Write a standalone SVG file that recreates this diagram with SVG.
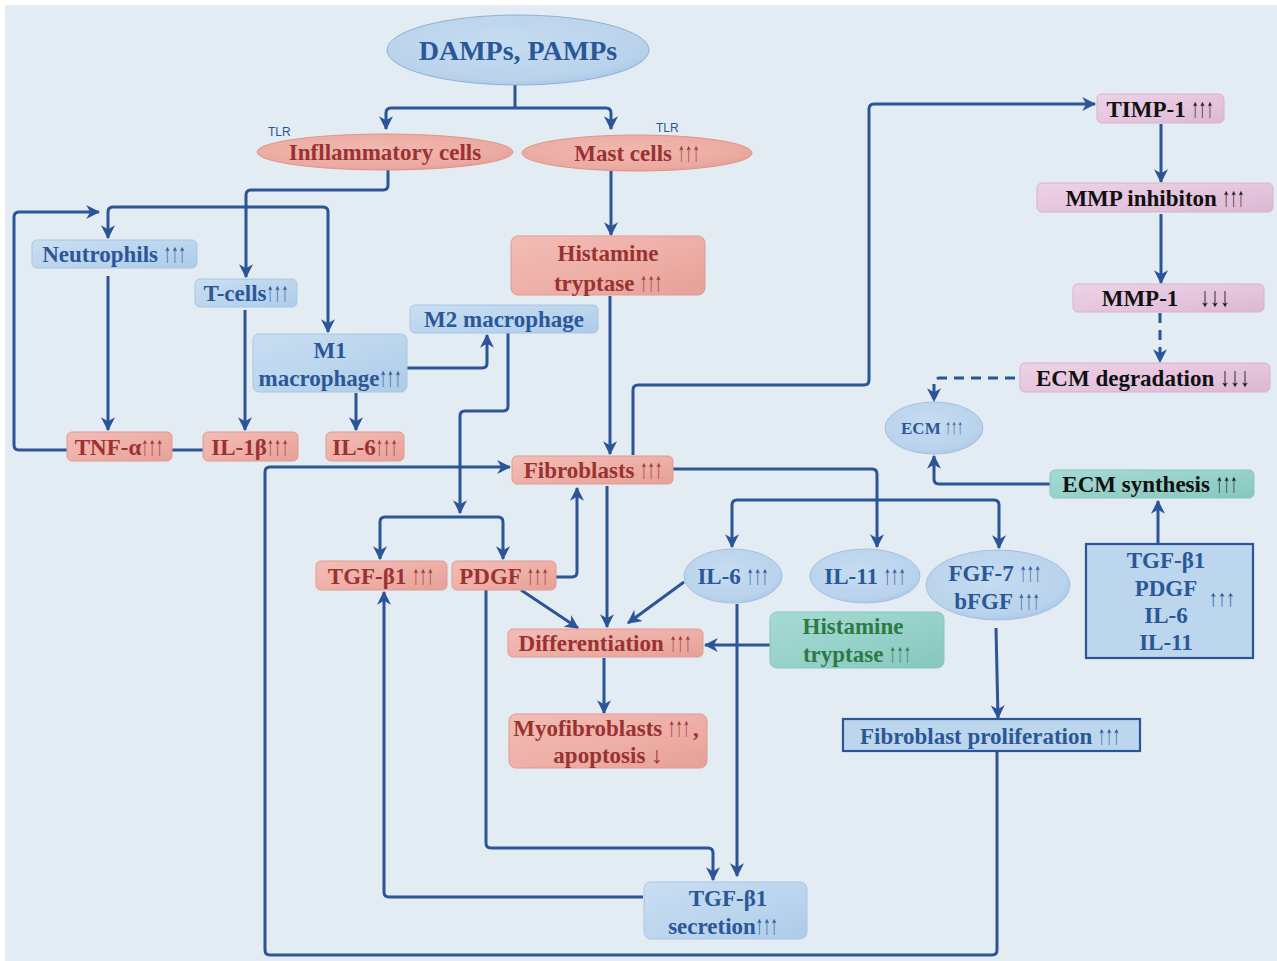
<svg xmlns="http://www.w3.org/2000/svg" width="1277" height="961" viewBox="0 0 1277 961">
<defs>
<style>
.t{font-family:"Liberation Serif","Times New Roman",serif;font-weight:bold;font-size:23px;text-anchor:middle}
.ar{font-weight:normal;font-size:27px}
.r{fill:#9a3232}
.b{fill:#2b5797}
.k{fill:#111}
.g{fill:#2d7a45}
.pink{fill:url(#gPink);stroke:#e39a91;stroke-width:1}
.blue{fill:url(#gBlue);stroke:#a9c6e4;stroke-width:1}
.lil{fill:url(#gLil);stroke:#d8b2cd;stroke-width:1}
.teal{fill:url(#gTeal);stroke:#86c7bf;stroke-width:1}
.box2{fill:#bcd6ee;stroke:#2b5597;stroke-width:2.2}
.c{fill:none;stroke:#2b5597;stroke-width:3;stroke-linejoin:round}
.a{marker-end:url(#ah)}
.aa{marker-start:url(#ah);marker-end:url(#ah)}
.d{stroke-dasharray:10 7}
</style>
<marker id="ah" viewBox="0 0 12 12" refX="11" refY="6" markerWidth="14" markerHeight="14" markerUnits="userSpaceOnUse" orient="auto-start-reverse">
<path d="M0,0 L12,6 L0,12 L3.5,6 z" fill="#2b5597"/>
</marker>
<linearGradient id="gPink" x1="0" y1="0" x2="1" y2="1">
<stop offset="0" stop-color="#f2bdb6"/><stop offset="0.5" stop-color="#eeb0a8"/><stop offset="1" stop-color="#e6a097"/>
</linearGradient>
<linearGradient id="gBlue" x1="0" y1="0" x2="1" y2="1">
<stop offset="0" stop-color="#c9def2"/><stop offset="0.5" stop-color="#bcd6ee"/><stop offset="1" stop-color="#aecbe8"/>
</linearGradient>
<linearGradient id="gLil" x1="0" y1="0" x2="1" y2="1">
<stop offset="0" stop-color="#edd2e6"/><stop offset="0.5" stop-color="#e6c6de"/><stop offset="1" stop-color="#dcb8d3"/>
</linearGradient>
<linearGradient id="gTeal" x1="0" y1="0" x2="1" y2="1">
<stop offset="0" stop-color="#a6dad3"/><stop offset="0.5" stop-color="#97d2ca"/><stop offset="1" stop-color="#86c6be"/>
</linearGradient>
<radialGradient id="gEll" cx="0.45" cy="0.4" r="0.65">
<stop offset="0" stop-color="#c6dcf1"/><stop offset="0.8" stop-color="#b9d3ec"/><stop offset="1" stop-color="#a7c5e5"/>
</radialGradient>
<radialGradient id="gEllP" cx="0.45" cy="0.4" r="0.65">
<stop offset="0" stop-color="#f0b8b0"/><stop offset="0.8" stop-color="#ebaaa1"/><stop offset="1" stop-color="#e49a90"/>
</radialGradient>
</defs>
<rect x="0" y="0" width="1277" height="961" fill="#ffffff"/>
<rect x="5" y="5" width="1272" height="956" fill="#e3ebf3"/>

<g id="connectors">
<path class="c" d="M515,85 V108"/>
<path class="c aa" d="M386,129 V113 Q386,108 391,108 H606 Q611,108 611,113 V129"/>
<path class="c a" d="M388,170 V185 Q388,190 383,190 H251 Q246,190 246,195 V277"/>
<path class="c a" d="M67,450 H19 Q14,450 14,445 V217 Q14,212 19,212 H99"/>
<path class="c aa" d="M108,238 V212 Q108,207 113,207 H323 Q328,207 328,212 V332"/>
<path class="c a" d="M108,276 V430"/>
<path class="c a" d="M245,310 V430"/>
<path class="c" d="M172,450 H203"/>
<path class="c a" d="M356,393 V430"/>
<path class="c a" d="M407,368 H482 Q487,368 487,363 V335"/>
<path class="c a" d="M508,333 V406 Q508,411 503,411 H465 Q460,411 460,416 V513"/>
<path class="c aa" d="M380,559 V522 Q380,517 385,517 H498 Q503,517 503,522 V559"/>
<path class="c a" d="M611,171 V235"/>
<path class="c a" d="M610,296 V454"/>
<path class="c a" d="M997,752 V950 Q997,955 992,955 H270 Q265,955 265,950 V472 Q265,467 270,467 H510"/>
<path class="c a" d="M633,455 V390 Q633,385 638,385 H864 Q869,385 869,380 V109 Q869,104 874,104 H1095"/>
<path class="c a" d="M673,469 H872 Q877,469 877,474 V547"/>
<path class="c aa" d="M732,547 V505 Q732,500 737,500 H994 Q999,500 999,505 V548"/>
<path class="c a" d="M607,486 V627"/>
<path class="c a" d="M556,577 H572 Q577,577 577,572 V488"/>
<path class="c a" d="M521,590 L578,628"/>
<path class="c a" d="M684,582 L628,623"/>
<path class="c a" d="M770,645 H705"/>
<path class="c a" d="M604,658 V713"/>
<path class="c a" d="M486,590 V843 Q486,848 491,848 H708 Q713,848 713,853 V880"/>
<path class="c a" d="M737,604 V876"/>
<path class="c a" d="M643,897 H389 Q384,897 384,892 V592"/>
<path class="c a" d="M996,628 L998,718"/>
<path class="c a" d="M1158,543 V501"/>
<path class="c a" d="M1050,484 H939 Q934,484 934,479 V456"/>
<path class="c a" d="M1161,124 V182"/>
<path class="c a" d="M1161,214 V283"/>
<path class="c a d" d="M1160,313 V362"/>
<path class="c a d" d="M1015,378 H939 Q934,378 934,383 V401"/>
</g>

<g id="damps">
<ellipse cx="518" cy="50" rx="131" ry="35" fill="url(#gEll)" stroke="#8fb1d8" stroke-width="1"/>
<text class="t b" x="518" y="60" style="font-size:28px">DAMPs, PAMPs</text>
</g>
<g id="tlr1"><text x="268" y="136" style="font-family:'Liberation Sans',Arial,sans-serif;font-size:12px;fill:#2b5797">TLR</text></g>
<g id="tlr2"><text x="656" y="132" style="font-family:'Liberation Sans',Arial,sans-serif;font-size:12px;fill:#2b5797">TLR</text></g>

<g id="inflammatory">
<ellipse cx="385" cy="152" rx="128" ry="18" fill="url(#gEllP)" stroke="#e0958b" stroke-width="1"/>
<text class="t r" x="385" y="160">Infllammatory cells</text>
</g>
<g id="mast">
<ellipse cx="637" cy="153" rx="115" ry="18" fill="url(#gEllP)" stroke="#e0958b" stroke-width="1"/>
<text class="t r" x="637" y="161">Mast cells <tspan class="ar" textLength="22" lengthAdjust="spacingAndGlyphs">↑↑↑</tspan></text>
</g>

<g id="neutrophils">
<rect class="blue" x="32" y="240" width="165" height="28" rx="5"/>
<text class="t b" x="114" y="262">Neutrophils <tspan class="ar" textLength="22" lengthAdjust="spacingAndGlyphs">↑↑↑</tspan></text>
</g>
<g id="tcells">
<rect class="blue" x="195" y="279" width="102" height="28" rx="5"/>
<text class="t b" x="246" y="301">T-cells<tspan class="ar" textLength="22" lengthAdjust="spacingAndGlyphs">↑↑↑</tspan></text>
</g>
<g id="m1">
<rect class="blue" x="253" y="334" width="154" height="58" rx="6"/>
<text class="t b" x="330" y="358">M1</text>
<text class="t b" x="330" y="386">macrophage<tspan class="ar" textLength="22" lengthAdjust="spacingAndGlyphs">↑↑↑</tspan></text>
</g>
<g id="m2">
<rect class="blue" x="410" y="305" width="188" height="28" rx="5"/>
<text class="t b" x="504" y="327">M2 macrophage</text>
</g>
<g id="tnf">
<rect class="pink" x="67" y="432" width="105" height="29" rx="5"/>
<text class="t r" x="119" y="455">TNF-α<tspan class="ar" textLength="22" lengthAdjust="spacingAndGlyphs">↑↑↑</tspan></text>
</g>
<g id="il1b">
<rect class="pink" x="203" y="432" width="95" height="29" rx="5"/>
<text class="t r" x="250" y="455">IL-1β<tspan class="ar" textLength="22" lengthAdjust="spacingAndGlyphs">↑↑↑</tspan></text>
</g>
<g id="il6a">
<rect class="pink" x="326" y="432" width="78" height="29" rx="5"/>
<text class="t r" x="365" y="455">IL-6<tspan class="ar" textLength="22" lengthAdjust="spacingAndGlyphs">↑↑↑</tspan></text>
</g>
<g id="histamine1">
<rect class="pink" x="511" y="236" width="194" height="59" rx="7"/>
<text class="t r" x="608" y="261">Histamine</text>
<text class="t r" x="608" y="291">tryptase <tspan class="ar" textLength="22" lengthAdjust="spacingAndGlyphs">↑↑↑</tspan></text>
</g>
<g id="fibroblasts">
<rect class="pink" x="512" y="456" width="161" height="28" rx="5"/>
<text class="t r" x="593" y="478">Fibroblasts <tspan class="ar" textLength="22" lengthAdjust="spacingAndGlyphs">↑↑↑</tspan></text>
</g>
<g id="tgfb1">
<rect class="pink" x="316" y="561" width="131" height="29" rx="5"/>
<text class="t r" x="381" y="584">TGF-β1 <tspan class="ar" textLength="22" lengthAdjust="spacingAndGlyphs">↑↑↑</tspan></text>
</g>
<g id="pdgf">
<rect class="pink" x="452" y="561" width="104" height="29" rx="5"/>
<text class="t r" x="504" y="584">PDGF <tspan class="ar" textLength="22" lengthAdjust="spacingAndGlyphs">↑↑↑</tspan></text>
</g>
<g id="differentiation">
<rect class="pink" x="508" y="629" width="195" height="28" rx="5"/>
<text class="t r" x="605" y="651">Differentiation <tspan class="ar" textLength="22" lengthAdjust="spacingAndGlyphs">↑↑↑</tspan></text>
</g>
<g id="myofibroblasts">
<rect class="pink" x="509" y="714" width="198" height="54" rx="7"/>
<text class="t r" x="606" y="736">Myofibroblasts <tspan class="ar" textLength="22" lengthAdjust="spacingAndGlyphs">↑↑↑</tspan><tspan dx="3">,</tspan></text>
<text class="t r" x="608" y="763">apoptosis <tspan style="font-weight:normal">↓</tspan></text>
</g>
<g id="il6b">
<ellipse cx="733" cy="576" rx="49" ry="27" fill="url(#gEll)" stroke="#a3c1e2" stroke-width="1"/>
<text class="t b" x="733" y="584">IL-6 <tspan class="ar" textLength="22" lengthAdjust="spacingAndGlyphs">↑↑↑</tspan></text>
</g>
<g id="il11">
<ellipse cx="865" cy="576" rx="55" ry="27" fill="url(#gEll)" stroke="#a3c1e2" stroke-width="1"/>
<text class="t b" x="865" y="584">IL-11 <tspan class="ar" textLength="22" lengthAdjust="spacingAndGlyphs">↑↑↑</tspan></text>
</g>
<g id="fgf">
<ellipse cx="998" cy="585" rx="72" ry="35" fill="url(#gEll)" stroke="#a3c1e2" stroke-width="1"/>
<text class="t b" x="995" y="581">FGF-7 <tspan class="ar" textLength="22" lengthAdjust="spacingAndGlyphs">↑↑↑</tspan></text>
<text class="t b" x="997" y="609">bFGF <tspan class="ar" textLength="22" lengthAdjust="spacingAndGlyphs">↑↑↑</tspan></text>
</g>
<g id="histamine2">
<rect class="teal" x="770" y="612" width="174" height="56" rx="7"/>
<text class="t g" x="853" y="634">Histamine</text>
<text class="t g" x="857" y="662">tryptase <tspan class="ar" textLength="22" lengthAdjust="spacingAndGlyphs">↑↑↑</tspan></text>
</g>
<g id="fibprolif">
<rect class="box2" x="843" y="719" width="297" height="32"/>
<text class="t b" x="990" y="744">Fibroblast proliferation <tspan class="ar" textLength="22" lengthAdjust="spacingAndGlyphs">↑↑↑</tspan></text>
</g>
<g id="tgfsec">
<rect class="blue" x="644" y="882" width="163" height="57" rx="7"/>
<text class="t b" x="728" y="906">TGF-β1</text>
<text class="t b" x="723" y="934">secretion<tspan class="ar" textLength="22" lengthAdjust="spacingAndGlyphs">↑↑↑</tspan></text>
</g>
<g id="factors">
<rect class="box2" x="1086" y="544" width="167" height="114"/>
<text class="t b" x="1166" y="568">TGF-β1</text>
<text class="t b" x="1166" y="596">PDGF</text>
<text class="t b" x="1166" y="623">IL-6</text>
<text class="t b" x="1166" y="650">IL-11</text>
<text class="t b" x="1222" y="606"><tspan class="ar" style="font-size:23px" textLength="26" lengthAdjust="spacingAndGlyphs">↑↑↑</tspan></text>
</g>
<g id="timp1">
<rect class="lil" x="1097" y="94" width="127" height="29" rx="5"/>
<text class="t k" x="1160" y="117">TIMP-1 <tspan class="ar" textLength="22" lengthAdjust="spacingAndGlyphs">↑↑↑</tspan></text>
</g>
<g id="mmpinh">
<rect class="lil" x="1037" y="183" width="236" height="29" rx="5"/>
<text class="t k" x="1155" y="206">MMP inhibiton <tspan class="ar" textLength="22" lengthAdjust="spacingAndGlyphs">↑↑↑</tspan></text>
</g>
<g id="mmp1">
<rect class="lil" x="1073" y="284" width="191" height="28" rx="5"/>
<text class="t k" x="1140" y="306">MMP-1</text>
<text class="t k" x="1215" y="306"><tspan class="ar" textLength="30" lengthAdjust="spacingAndGlyphs">↓↓↓</tspan></text>
</g>
<g id="ecmdeg">
<rect class="lil" x="1020" y="363" width="250" height="29" rx="5"/>
<text class="t k" x="1143" y="386">ECM degradation <tspan class="ar" textLength="30" lengthAdjust="spacingAndGlyphs">↓↓↓</tspan></text>
</g>
<g id="ecm">
<ellipse cx="934" cy="428" rx="49" ry="26" fill="url(#gEll)" stroke="#a3c1e2" stroke-width="1"/>
<text class="t b" x="932" y="434" style="font-size:17px">ECM <tspan class="ar" style="font-size:21px" textLength="18" lengthAdjust="spacingAndGlyphs">↑↑↑</tspan></text>
</g>
<g id="ecmsyn">
<rect class="teal" x="1050" y="470" width="204" height="28" rx="5"/>
<text class="t k" x="1150" y="492">ECM synthesis <tspan class="ar" textLength="22" lengthAdjust="spacingAndGlyphs">↑↑↑</tspan></text>
</g>
</svg>
